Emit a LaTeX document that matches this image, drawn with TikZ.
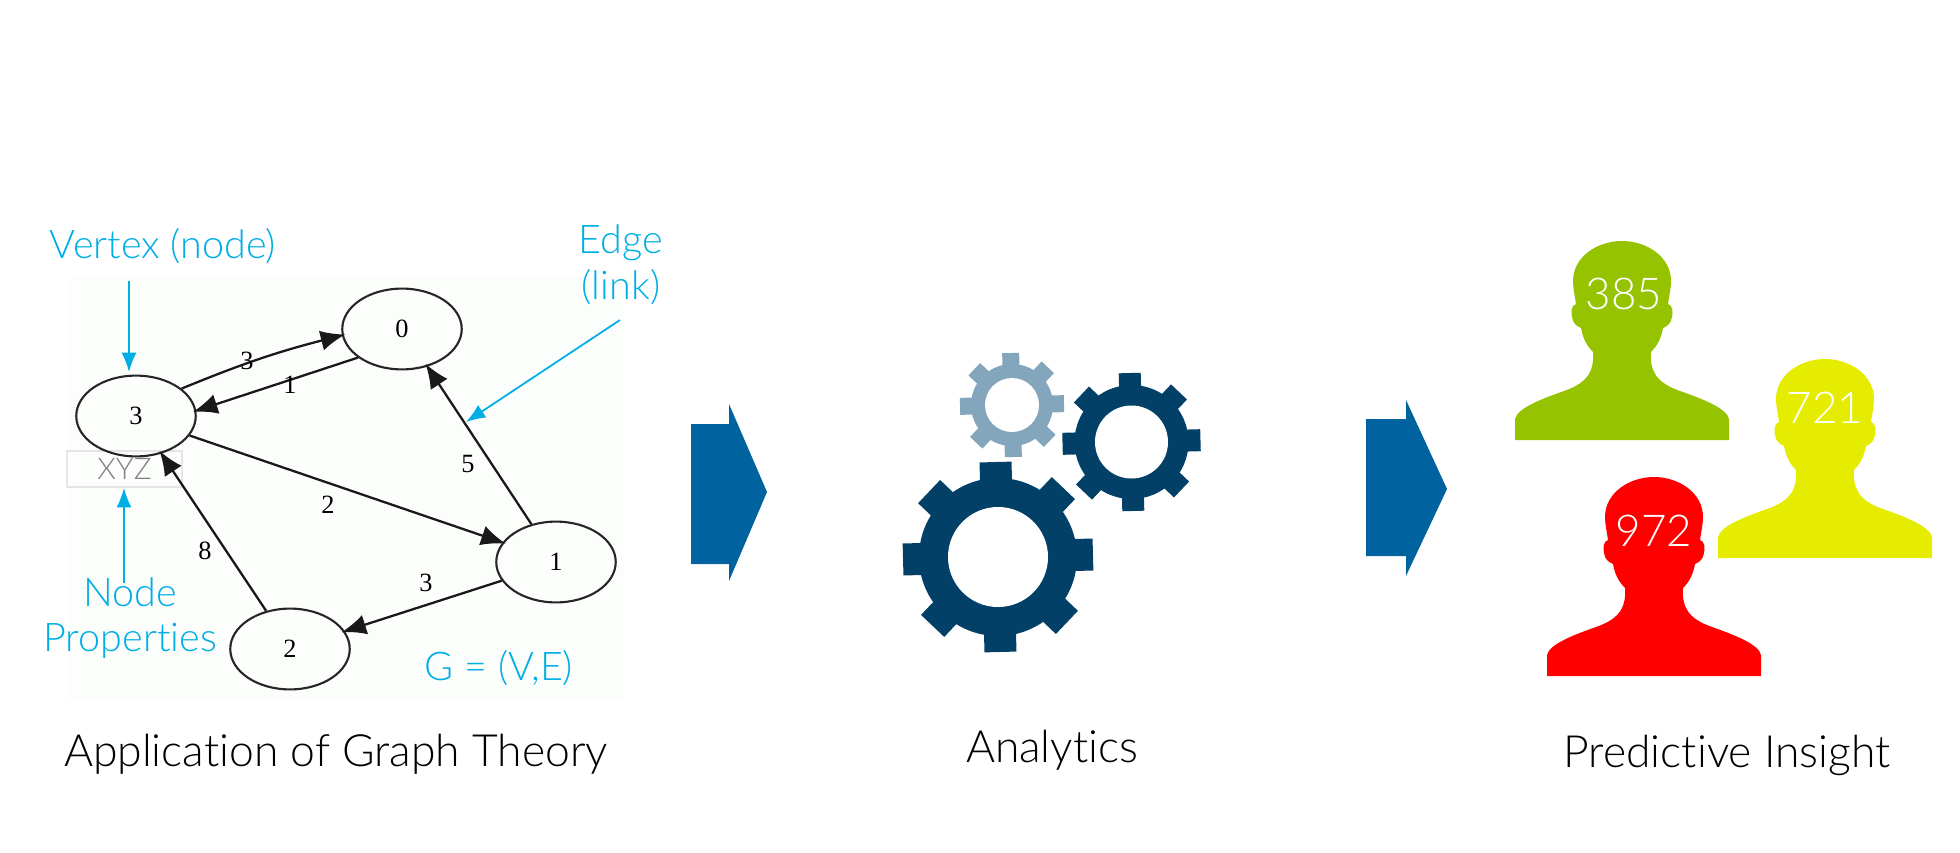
\documentclass[tikz,border=0pt]{standalone}
\usepackage{fontspec}
\setmainfont{Lato}[UprightFont=* Light, Ligatures=NoCommon]
\newfontfamily\graphfont{Liberation Serif}
\usetikzlibrary{shapes.geometric, positioning, arrows.meta}
\definecolor{callblue}{HTML}{00AEE6}
\definecolor{flowblue}{HTML}{00629E}
\definecolor{geardark}{HTML}{034067}
\definecolor{gearpale}{HTML}{84A6BC}
\definecolor{graphbg}{HTML}{FCFEFB}
\definecolor{headgreen}{HTML}{95C300}
\definecolor{headyellow}{HTML}{E6EC00}
\tikzset{
  vertex/.style={draw=black!85, ellipse, line width=1.2pt, minimum width=68pt, minimum height=46pt, inner sep=0pt, font=\graphfont\fontsize{15}{15}\selectfont},
  link/.style={-{Latex[length=14pt, width=11.5pt]}, line width=1.3pt, black!90, shorten >=-2pt},
  weight/.style={font=\graphfont\fontsize{15}{15}\selectfont},
  callout/.style={text=callblue, align=center, font=\fontsize{22.5}{26}\selectfont},
  pointer/.style={-{Latex[length=11pt, width=8.5pt]}, callblue, line width=1pt},
  caption/.style={text=black, font=\fontsize{25.3}{30}\selectfont},
  headnum/.style={text=white, font=\fontsize{25}{30}\selectfont},
  person/.pic={
    \fill (0,0) .. controls (25,0) and (49,16) .. (49,40)
      .. controls (49,47) and (47,56) .. (46,63)
      .. controls (51,64) and (51,72) .. (50,76)
      .. controls (49,82) and (46,85) .. (41,87)
      .. controls (39,98) and (35,105) .. (29,111)
      .. controls (28,128) and (32,141) .. (58,150)
      .. controls (78,157) and (105,167) .. (107,178)
      -- (107,199) -- (-107,199) -- (-107,178)
      .. controls (-105,167) and (-78,157) .. (-58,150)
      .. controls (-32,141) and (-28,128) .. (-29,111)
      .. controls (-35,105) and (-39,98) .. (-41,87)
      .. controls (-46,85) and (-49,82) .. (-50,76)
      .. controls (-51,72) and (-51,64) .. (-46,63)
      .. controls (-47,56) and (-49,47) .. (-49,40)
      .. controls (-49,16) and (-25,0) .. (0,0) -- cycle;
  }
}
% centre x, centre y, body radius, tip radius, hole radius, tooth width, colour
\newcommand{\gearwheel}[7]{
  \foreach \ang in {0,45,...,315} {
    \fill[#7, shift={(#1,#2)}, rotate=\ang+1.5] (-#6/2,0) rectangle (#6/2,#4);
  }
  \fill[#7] (#1,#2) circle (#3);
  \fill[white] (#1,#2) circle (#5);
}
\begin{document}
\begin{tikzpicture}[x=0.02cm, y=-0.02cm]
  \useasboundingbox (0,0) rectangle (1960,852);

  % graph picture
  \fill[graphbg] (69,277) rectangle (625,700);
  \node[draw=black!10, line width=1.1pt, minimum width=65pt, minimum height=20.5pt, text=black!50, font=\fontsize{17}{20}\selectfont, inner sep=0pt] (props) at (124.5,469) {XYZ};
  \node[vertex] (n0) at (402,329) {0};
  \node[vertex] (n3) at (136,416) {3};
  \node[vertex] (n1) at (556,562) {1};
  \node[vertex] (n2) at (290,649) {2};

  \draw[link] (n3.31) to[bend left=4] (n0.186);
  \draw[link] (n0.213) -- (n3.5);
  \draw[link] (n3.-20) -- (n1.160);
  \draw[link] (n1.123) -- (n0.-56);
  \draw[link] (n1.199) -- (n2.18);
  \draw[link] (n2.122) -- (n3.-56);

  \node[weight] (w30) at (247,361) {3};
  \node[weight] (w03) at (290,385) {1};
  \node[weight] (w31) at (328,505) {2};
  \node[weight] (w10) at (468,464) {5};
  \node[weight] (w23) at (205,551) {8};
  \node[weight] (w12) at (426,583) {3};

  % blue call-outs
  \node[callout] (vertexlbl) at (163,246) {Vertex (node)};
  \node[callout] (edgelbl) at (621,265) {Edge\\(link)};
  \node[callout] (proplbl) at (130,618) {Node\\Properties};
  \node[callout] (glbl) at (499,668) {G = (V,E)};
  \coordinate (vertexfrom) at (129,281);
  \coordinate (vertexto) at (129,372);
  \coordinate (edgefrom) at (620,320);
  \coordinate (edgeto) at (466,422);
  \coordinate (propfrom) at (124,583);
  \draw[pointer] (vertexfrom) -- (vertexto);
  \draw[pointer] (edgefrom) -- (edgeto);
  \draw[pointer] (propfrom) -- (props.south -| propfrom);

  % flow arrows
  \fill[flowblue] (691,424) -- (729,424) -- (729,404) -- (767,492) -- (729,581) -- (729,564) -- (691,564) -- cycle;
  \fill[flowblue] (1366,419) -- (1406,419) -- (1406,400) -- (1447,489) -- (1406,576) -- (1406,556) -- (1366,556) -- cycle;

  % gears
  \gearwheel{1012}{405}{41}{52}{27}{17}{gearpale}
  \gearwheel{1131.5}{442}{57}{69}{36.5}{22}{geardark}
  \gearwheel{998}{557}{79}{95}{50}{32}{geardark}

  % people
  \pic[headgreen] at (1622,241) {person};
  \pic[headyellow] at (1825,359) {person};
  \pic[red] at (1654,477) {person};
  \node[headnum] (num385) at (1624,294) {385};
  \node[headnum] (num721) at (1825,408) {721};
  \node[headnum] (num972) at (1654,531) {972};

  % captions
  \node[caption] (capgraph) at (336,754) {Application of Graph Theory};
  \node[caption] (capana) at (1052,750) {Analytics};
  \node[caption] (capins) at (1727,755) {Predictive Insight};
\end{tikzpicture}
\end{document}
